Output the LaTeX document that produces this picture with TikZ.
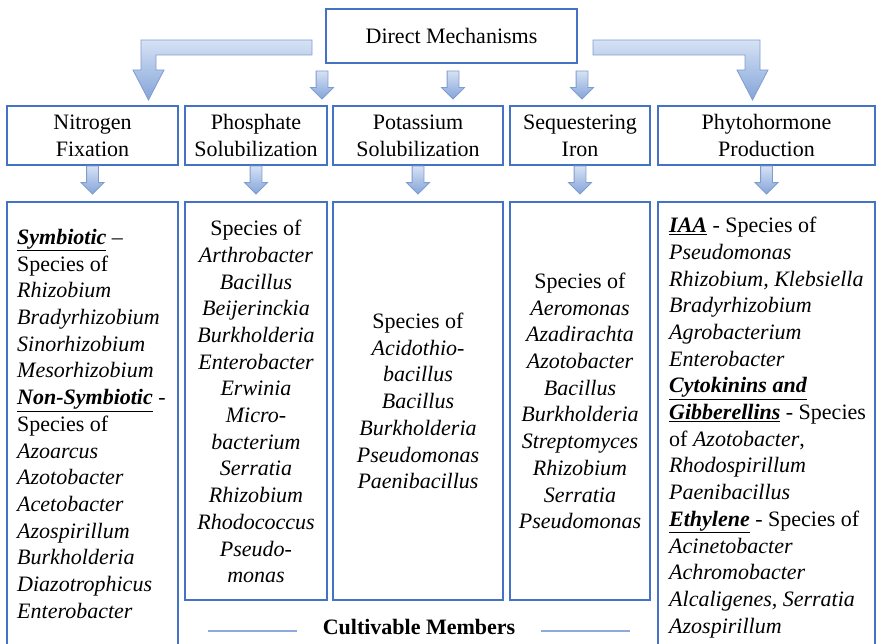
\documentclass[tikz,border=0pt]{standalone}
\usepackage{fontspec}
\setmainfont{Liberation Serif}
\usetikzlibrary{positioning}
\usetikzlibrary{shapes.arrows}

\definecolor{boxblue}{HTML}{4472C4}
\definecolor{arrowtop}{HTML}{D6E2F4}
\definecolor{arrowbot}{HTML}{84A4D9}
\definecolor{arrowedge}{HTML}{7F9DCF}
\definecolor{ruleblue}{HTML}{8EAADB}

\tikzset{
  mbox/.style={draw=boxblue, line width=1.6pt, outer sep=0pt, inner sep=0pt, align=center,
    font=\fontsize{22}{27}\selectfont},
  listtext/.style={inner sep=0pt, font=\fontsize{22}{26.7}\selectfont},
  blockarrow/.style={draw=arrowedge, line width=0.8pt, top color=arrowtop, bottom color=arrowbot},
  downarrow/.style={blockarrow, single arrow, shape border rotate=270, inner sep=5.5pt,
    minimum width=22pt, minimum height=28pt, single arrow head extend=5.5pt, outer sep=0pt},
}

\begin{document}
\begin{tikzpicture}[x=1pt, y=-1pt]
      \useasboundingbox (0,0) rectangle (878,644);
      \node[mbox, minimum width=251pt, minimum height=54pt] (direct) at (451.5,36) {Direct Mechanisms};

      % second row
      \node[mbox, minimum width=171pt, minimum height=59pt] (nitro) at (92.5,135.5) {Nitrogen\\Fixation};
      \node[mbox, minimum width=142pt, minimum height=59pt, right=7pt of nitro] (phos) {Phosphate\\Solubilization};
      \node[mbox, minimum width=170pt, minimum height=59pt, right=6pt of phos] (potas) {Potassium\\Solubilization};
      \node[mbox, minimum width=140pt, minimum height=59pt, right=7pt of potas] (iron) {Sequestering\\Iron};
      \node[mbox, minimum width=217pt, minimum height=59pt, right=8pt of iron] (phyto) {Phytohormone\\Production};

      % bent arrows
      \draw[blockarrow] (312,40) -- (141,40) -- (141,70) -- (133,70) -- (148.5,100) -- (164,70)
        -- (156,70) -- (156,55) -- (312,55) -- cycle;
      \draw[blockarrow] (593,40) -- (760,40) -- (760,70) -- (768,70) -- (752.5,100) -- (737,70)
        -- (745,70) -- (745,55) -- (593,55) -- cycle;

      \node[downarrow, below=8pt of direct.south west, xshift=-4pt] (arr1) {};
      \node[downarrow, below=8pt of direct.south, xshift=1.5pt] (arr2) {};
      \node[downarrow, below=8pt of direct.south east, xshift=5pt] (arr3) {};

      % third row
      \node[mbox, minimum width=171pt, minimum height=460pt, below=37pt of nitro] (nitrobox) {};
      \node[mbox, minimum width=142pt, minimum height=398pt, below=37pt of phos] (phosbox) {};
      \node[mbox, minimum width=170pt, minimum height=398pt, below=37pt of potas] (potasbox) {};
      \node[mbox, minimum width=140pt, minimum height=398pt, below=37pt of iron] (ironbox) {};
      \node[mbox, minimum width=217pt, minimum height=460pt, below=37pt of phyto] (phytobox) {};

      \foreach \b in {nitro, phos, potas, iron, phyto}
        \node[downarrow, below=1pt of \b] (\b arr) {};

      \node[listtext, align=left, anchor=north west] (nitrolist) at ([xshift=10pt, yshift=-27pt]nitrobox.north west)
        {\underline{\textbf{\textit{Symbiotic}}} --\\ Species of\\ \textit{Rhizobium}\\ \textit{Bradyrhizobium}\\
         \textit{Sinorhizobium}\\ \textit{Mesorhizobium}\\ \underline{\textbf{\textit{Non-Symbiotic}}} -\\
         Species of\\ \textit{Azoarcus}\\ \textit{Azotobacter}\\ \textit{Acetobacter}\\ \textit{Azospirillum}\\
         \textit{Burkholderia}\\ \textit{Diazotrophicus}\\ \textit{Enterobacter}};
      \node[listtext, align=center, anchor=north] (phoslist) at ([yshift=-18pt]phosbox.north)
        {Species of\\ \textit{Arthrobacter}\\ \textit{Bacillus}\\ \textit{Beijerinckia}\\ \textit{Burkholderia}\\
         \textit{Enterobacter}\\ \textit{Erwinia}\\ \textit{Micro-}\\ \textit{bacterium}\\ \textit{Serratia}\\
         \textit{Rhizobium}\\ \textit{Rhodococcus}\\ \textit{Pseudo-}\\ \textit{monas}};
      \node[listtext, align=center] (potaslist) at (potasbox.center)
        {Species of\\ \textit{Acidothio-}\\ \textit{bacillus}\\ \textit{Bacillus}\\ \textit{Burkholderia}\\
         \textit{Pseudomonas}\\ \textit{Paenibacillus}};
      \node[listtext, align=center] (ironlist) at (ironbox.center)
        {Species of\\ \textit{Aeromonas}\\ \textit{Azadirachta}\\ \textit{Azotobacter}\\ \textit{Bacillus}\\
         \textit{Burkholderia}\\ \textit{Streptomyces}\\ \textit{Rhizobium}\\ \textit{Serratia}\\ \textit{Pseudomonas}};
      \node[listtext, align=left, anchor=north west] (phytolist) at ([xshift=11pt, yshift=-15pt]phytobox.north west)
        {\underline{\textbf{\textit{IAA}}} - Species of\\ \textit{Pseudomonas}\\ \textit{Rhizobium, Klebsiella}\\
         \textit{Bradyrhizobium}\\ \textit{Agrobacterium}\\ \textit{Enterobacter}\\
         \underline{\textbf{\textit{Cytokinins and}}}\\ \underline{\textbf{\textit{Gibberellins}}} - Species\\
         of \textit{Azotobacter},\\ \textit{Rhodospirillum}\\ \textit{Paenibacillus}\\
         \underline{\textbf{\textit{Ethylene}}} - Species of\\ \textit{Acinetobacter}\\ \textit{Achromobacter}\\
         \textit{Alcaligenes, Serratia}\\ \textit{Azospirillum}};

      \node[listtext, font=\fontsize{22}{26.7}\selectfont\bfseries] (cult) at (419,627) {Cultivable Members};
      \draw[ruleblue, line width=1.5pt] ([xshift=-26pt, yshift=-4pt]cult.west) -- ++(-89,0);
      \draw[ruleblue, line width=1.5pt] ([xshift=26pt, yshift=-4pt]cult.east) -- ++(89,0);
    \end{tikzpicture}
\end{document}
